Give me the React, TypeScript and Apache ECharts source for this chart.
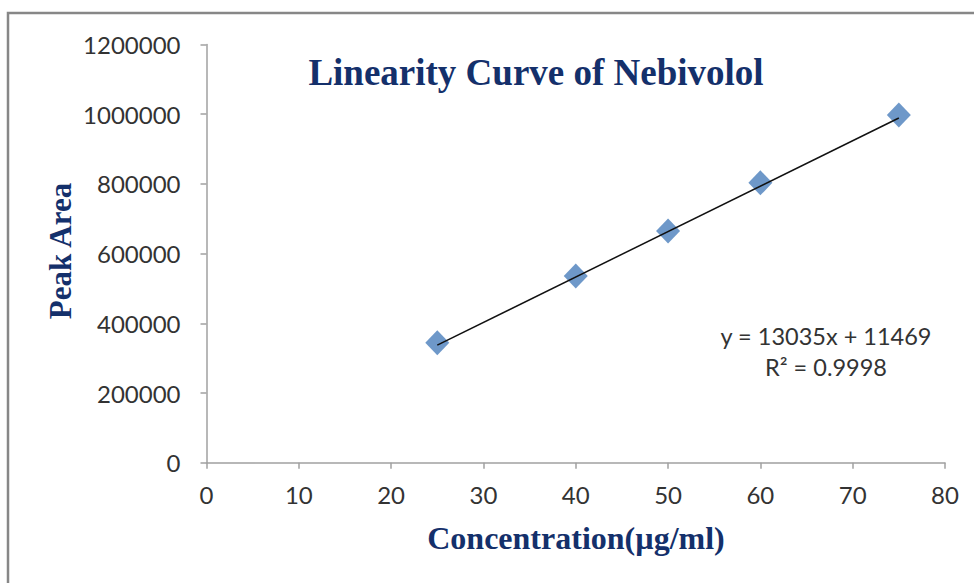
import React, { useEffect, useRef } from "react";
import * as echarts from "echarts";

const concentrations = [25, 40, 50, 60, 75];
const peakAreas = [344000, 536000, 665000, 803000, 998000];
const slope = 13035;
const intercept = 11469;
const trendX = [25, 75];
const xTicks = [0, 10, 20, 30, 40, 50, 60, 70, 80];
const yTicks = [0, 200000, 400000, 600000, 800000, 1000000, 1200000];
const titleText = "Linearity Curve of Nebivolol";
const xName = "Concentration(\u00b5g/ml)";
const yName = "Peak Area";
const eqLine1 = "y = 13035x + 11469";
const eqLine2 = "R\u00b2 = 0.9998";

export default function App() {
  const ref = useRef<HTMLDivElement>(null);
  useEffect(() => {
    if (!ref.current) return;
    const chart = echarts.init(ref.current, null, { renderer: "svg" });
    const navy = "#14306b";
    const serif = "'Liberation Serif', 'Times New Roman', serif";
    const sans = "Lato, 'Open Sans', sans-serif";
    chart.setOption({
      animation: false,
      backgroundColor: "#ffffff",
      grid: { left: 206.5, right: 29, top: 44.5, bottom: 120.3, containLabel: false },
      xAxis: {
        type: "value",
        min: xTicks[0],
        max: xTicks[xTicks.length - 1],
        interval: 10,
        splitLine: { show: false },
        axisLine: { show: true, lineStyle: { color: "#a0a0a0", width: 1.5 } },
        axisTick: { show: true, inside: false, length: 6, lineStyle: { color: "#a0a0a0", width: 1.5 } },
        axisLabel: { color: "#333", fontFamily: sans, fontSize: 24, margin: 20, formatter: (v: number) => String(v) },
      },
      yAxis: {
        type: "value",
        min: yTicks[0],
        max: yTicks[yTicks.length - 1],
        interval: 200000,
        splitLine: { show: false },
        axisLine: { show: true, lineStyle: { color: "#a0a0a0", width: 1.5 } },
        axisTick: { show: true, inside: false, length: 6, lineStyle: { color: "#a0a0a0", width: 1.5 } },
        axisLabel: { color: "#333", fontFamily: sans, fontSize: 24, margin: 26, formatter: (v: number) => String(v) },
      },
      series: [
        {
          type: "line",
          data: trendX.map((x) => [x, slope * x + intercept]),
          showSymbol: false,
          symbol: "none",
          lineStyle: { color: "#111", width: 1.5 },
          z: 3,
        },
        {
          type: "scatter",
          data: concentrations.map((c, i) => [c, peakAreas[i]]),
          symbol: "diamond",
          symbolSize: [24, 25],
          itemStyle: { color: "#4a7ebb" },
          z: 2,
        },
      ],
      graphic: [
        {
          type: "rect",
          shape: { x: 8, y: 13, width: 1200, height: 1000 },
          style: { fill: "none", stroke: "#878787", lineWidth: 2.5 },
          silent: true,
        },
        {
          type: "text",
          x: 536,
          y: 72,
          style: {
            text: titleText,
            fontFamily: serif,
            fontWeight: "bold",
            fontSize: 37,
            fill: navy,
            textAlign: "center",
            textVerticalAlign: "middle",
          },
        },
        {
          type: "text",
          x: 576,
          y: 538,
          style: {
            text: xName,
            fontFamily: serif,
            fontWeight: "bold",
            fontSize: 32,
            fill: navy,
            textAlign: "center",
            textVerticalAlign: "middle",
          },
        },
        {
          type: "text",
          x: 60,
          y: 251,
          rotation: Math.PI / 2,
          style: {
            text: yName,
            fontFamily: serif,
            fontWeight: "bold",
            fontSize: 31,
            fill: navy,
            textAlign: "center",
            textVerticalAlign: "middle",
          },
        },
        {
          type: "text",
          x: 826,
          y: 336,
          style: {
            text: eqLine1,
            fontFamily: sans,
            fontSize: 23.5,
            fill: "#333",
            textAlign: "center",
            textVerticalAlign: "middle",
          },
        },
        {
          type: "text",
          x: 826,
          y: 367,
          style: {
            text: eqLine2,
            fontFamily: sans,
            fontSize: 23.5,
            fill: "#333",
            textAlign: "center",
            textVerticalAlign: "middle",
          },
        },
      ],
    });
    return () => chart.dispose();
  }, []);
  return (
    <div
      ref={ref}
      style={{ position: "absolute", left: 0, top: 0, width: 974, height: 583 }}
    />
  );
}
